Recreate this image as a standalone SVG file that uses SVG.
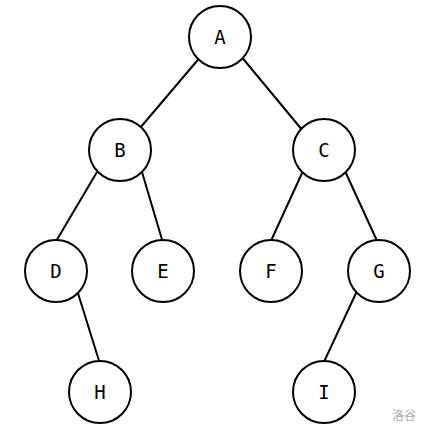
<svg xmlns="http://www.w3.org/2000/svg" width="432" height="436" viewBox="0 0 432 436">
<style>
.n circle{fill:#fff;stroke:#000;stroke-width:2}
.n text{font-family:"DejaVu Sans Mono",monospace;font-size:19px;text-anchor:middle;fill:#000}
#edges line{stroke:#000;stroke-width:2}
</style>
<rect width="432" height="436" fill="#fff"/>
<g id="edges">
<line x1="202" y1="55" x2="140" y2="128"/>
<line x1="240" y1="55" x2="303" y2="131"/>
<line x1="97" y1="172" x2="55" y2="243"/>
<line x1="142" y1="172" x2="163" y2="243"/>
<line x1="303" y1="171" x2="270" y2="243"/>
<line x1="345" y1="171" x2="378" y2="243"/>
<line x1="77" y1="290" x2="100" y2="364"/>
<line x1="357" y1="291" x2="323" y2="364"/>
</g>
<g id="A" class="n"><circle cx="220" cy="37" r="31"/><text x="220" y="44">A</text></g>
<g id="B" class="n"><circle cx="120" cy="150" r="31"/><text x="120" y="157">B</text></g>
<g id="C" class="n"><circle cx="324" cy="150" r="31"/><text x="324" y="157">C</text></g>
<g id="D" class="n"><circle cx="56" cy="271" r="31"/><text x="56" y="278">D</text></g>
<g id="E" class="n"><circle cx="163" cy="271" r="31"/><text x="163" y="278">E</text></g>
<g id="F" class="n"><circle cx="271" cy="271" r="31"/><text x="271" y="278">F</text></g>
<g id="G" class="n"><circle cx="379" cy="271" r="31"/><text x="379" y="278">G</text></g>
<g id="H" class="n"><circle cx="100" cy="392" r="31"/><text x="100" y="399">H</text></g>
<g id="I" class="n"><circle cx="324" cy="392" r="31"/><text x="324" y="399">I</text></g>
<text x="404" y="420" font-family="'Noto Sans CJK SC',sans-serif" font-size="12" fill="#aaa" text-anchor="middle">洛谷</text>
</svg>
